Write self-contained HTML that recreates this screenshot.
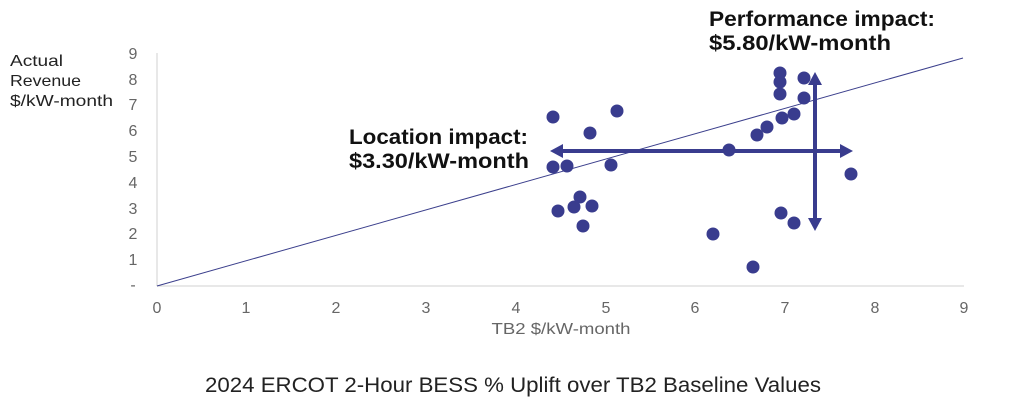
<!DOCTYPE html>
<html><head><meta charset="utf-8"><style>body{margin:0;background:#fff}svg{display:block}</style></head>
<body>
<svg width="1024" height="414" xmlns="http://www.w3.org/2000/svg" font-family="Liberation Sans, sans-serif">
<rect width="1024" height="414" fill="#fff"/>
<line x1="157" y1="53" x2="157" y2="286" stroke="#d0d0d0" stroke-width="1"/>
<line x1="157" y1="286" x2="964" y2="286" stroke="#d0d0d0" stroke-width="1"/>
<g font-size="16" fill="#666" text-anchor="middle">
<text x="133" y="59">9</text><text x="133" y="85">8</text><text x="133" y="110">7</text><text x="133" y="136">6</text><text x="133" y="162">5</text><text x="133" y="188">4</text><text x="133" y="214">3</text><text x="133" y="239">2</text><text x="133" y="265">1</text><text x="133" y="290">-</text>
<text x="157" y="313">0</text><text x="246" y="313">1</text><text x="336" y="313">2</text><text x="426" y="313">3</text><text x="516" y="313">4</text><text x="606" y="313">5</text><text x="695" y="313">6</text><text x="785" y="313">7</text><text x="875" y="313">8</text><text x="964" y="313">9</text>
<text x="561" y="334" font-size="16" textLength="139" lengthAdjust="spacingAndGlyphs">TB2 $/kW-month</text>
</g>
<g font-size="16" fill="#222"><text x="10" y="66" textLength="53" lengthAdjust="spacingAndGlyphs">Actual</text><text x="10" y="86" textLength="71" lengthAdjust="spacingAndGlyphs">Revenue</text><text x="10" y="106" textLength="103" lengthAdjust="spacingAndGlyphs">$/kW-month</text></g>
<line x1="157" y1="286" x2="963" y2="58" stroke="#3b3f8c" stroke-width="1"/>
<g fill="#393c8e">
<circle cx="553" cy="117" r="6.5"/><circle cx="617" cy="111" r="6.5"/><circle cx="590" cy="133" r="6.5"/><circle cx="553" cy="167" r="6.5"/><circle cx="567" cy="166" r="6.5"/><circle cx="611" cy="165" r="6.5"/><circle cx="580" cy="197" r="6.5"/><circle cx="558" cy="211" r="6.5"/><circle cx="574" cy="207" r="6.5"/><circle cx="592" cy="206" r="6.5"/><circle cx="583" cy="226" r="6.5"/><circle cx="729" cy="150" r="6.5"/><circle cx="713" cy="234" r="6.5"/><circle cx="753" cy="267" r="6.5"/><circle cx="757" cy="135" r="6.5"/><circle cx="767" cy="127" r="6.5"/><circle cx="782" cy="118" r="6.5"/><circle cx="794" cy="114" r="6.5"/><circle cx="804" cy="98" r="6.5"/><circle cx="804" cy="78" r="6.5"/><circle cx="780" cy="73" r="6.5"/><circle cx="780" cy="82" r="6.5"/><circle cx="780" cy="94" r="6.5"/><circle cx="781" cy="213" r="6.5"/><circle cx="794" cy="223" r="6.5"/><circle cx="851" cy="174" r="6.5"/>
</g>
<g stroke="#393c8e" stroke-width="4" fill="#393c8e">
<line x1="560" y1="151" x2="842" y2="151"/>
<line x1="815" y1="82" x2="815" y2="221"/>
</g>
<g fill="#393c8e">
<polygon points="550,151 563,144 563,158"/><polygon points="853,151 840,144 840,158"/>
<polygon points="815,72 808,85 822,85"/><polygon points="815,231 808,218 822,218"/>
</g>
<g font-size="21" font-weight="bold" fill="#111">
<text x="709" y="26" textLength="226" lengthAdjust="spacingAndGlyphs">Performance impact:</text><text x="709" y="50" textLength="182" lengthAdjust="spacingAndGlyphs">$5.80/kW-month</text>
<text x="349" y="144" textLength="179" lengthAdjust="spacingAndGlyphs">Location impact:</text><text x="349" y="168" textLength="180" lengthAdjust="spacingAndGlyphs">$3.30/kW-month</text>
</g>
<text x="513" y="392" font-size="21" fill="#222" text-anchor="middle" textLength="616" lengthAdjust="spacingAndGlyphs">2024 ERCOT 2-Hour BESS % Uplift over TB2 Baseline Values</text>
</svg>
</body></html>
